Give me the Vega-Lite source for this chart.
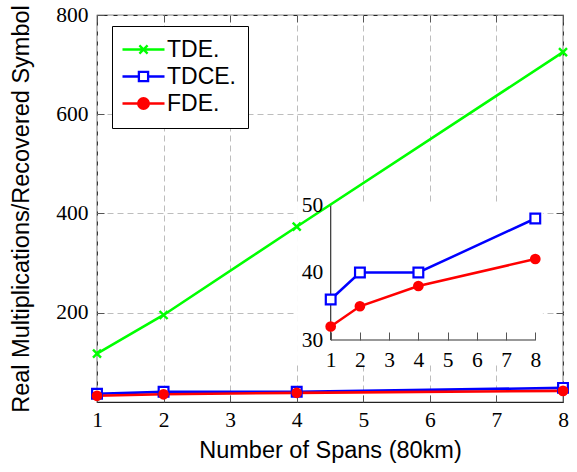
{
  "$schema": "https://vega.github.io/schema/vega-lite/v6.json",
  "width": 466,
  "height": 387,
  "autosize": {"type": "none"},
  "padding": {"left": 97, "top": 15, "right": 14, "bottom": 70},
  "background": "white",
  "config": {
    "view": {"stroke": "#222222", "strokeWidth": 1.2},
    "axis": {"labelColor": "black", "titleColor": "black", "labelFlush": false, "labelOverlap": false}
  },
  "datasets": {
    "d": [
      {"s": "TDE.", "x": 1, "y": 117},
      {"s": "TDE.", "x": 2, "y": 195},
      {"s": "TDE.", "x": 4, "y": 373},
      {"s": "TDE.", "x": 8, "y": 725},
      {"s": "TDCE.", "x": 1, "y": 36},
      {"s": "TDCE.", "x": 2, "y": 40},
      {"s": "TDCE.", "x": 4, "y": 40},
      {"s": "TDCE.", "x": 8, "y": 48},
      {"s": "FDE.", "x": 1, "y": 32},
      {"s": "FDE.", "x": 2, "y": 35},
      {"s": "FDE.", "x": 4, "y": 38},
      {"s": "FDE.", "x": 8, "y": 42}
    ],
    "inset": [
      {"xmin": 1, "xmax": 8, "ymin": 30, "ymax": 50, "bxmin": -0.15, "bxmax": 8.26, "bymin": 26.7, "bymax": 50.3}
    ]
  },
  "layer": [
    {
      "data": {"name": "d"},
      "encoding": {
        "x": {"field": "x", "type": "quantitative",
          "scale": {"domain": [-6.995, 8.948], "nice": false, "zero": false},
          "axis": {"orient": "bottom", "offset": -62, "values": [1,2,3,4,5,6,7,8], "domain": false, "grid": false,
            "tickSize": -8, "tickColor": "#555555", "tickWidth": 1, "labelFont": "Liberation Serif", "labelFontSize": 21.5,
            "labelPadding": 17, "title": null, "zindex": 1}},
        "y": {"field": "y", "type": "quantitative",
          "scale": {"domain": [20.815, 78.15], "nice": false, "zero": false},
          "axis": {"orient": "left", "offset": -233.7, "values": [30,40,50], "domain": false, "grid": false,
            "ticks": false, "labelFont": "Liberation Serif", "labelFontSize": 21.5, "labelPadding": 8, "title": null, "zindex": 1}}
      },
      "layer": [
        {"data": {"name": "inset"}, "mark": {"type": "rect", "fill": "white", "strokeWidth": 0},
          "encoding": {"x": {"field": "bxmin", "type": "quantitative"}, "x2": {"field": "bxmax"},
                       "y": {"field": "bymin", "type": "quantitative"}, "y2": {"field": "bymax"}}},
        {"data": {"name": "inset"}, "mark": {"type": "rule", "color": "#333333", "strokeWidth": 1.2},
          "encoding": {"x": {"field": "xmin", "type": "quantitative"}, "x2": {"field": "xmax"},
                       "y": {"field": "ymin", "type": "quantitative"}}},
        {"data": {"name": "inset"}, "mark": {"type": "rule", "color": "#333333", "strokeWidth": 1.2},
          "encoding": {"x": {"field": "xmin", "type": "quantitative"},
                       "y": {"field": "ymin", "type": "quantitative"}, "y2": {"field": "ymax"}}},
        {"transform": [{"filter": "datum.s === 'TDCE.'"}], "mark": {"type": "line", "color": "#0000ff", "strokeWidth": 2.5}, "encoding": {}},
        {"transform": [{"filter": "datum.s === 'FDE.'"}], "mark": {"type": "line", "color": "#ff0000", "strokeWidth": 2.5}, "encoding": {}},
        {"transform": [{"filter": "datum.s === 'TDCE.'"}], "mark": {"type": "point", "shape": "square", "size": 95, "filled": false, "fill": "white", "stroke": "#0000ff", "strokeWidth": 2.2, "opacity": 1}},
        {"transform": [{"filter": "datum.s === 'FDE.'"}], "mark": {"type": "point", "shape": "circle", "size": 115, "filled": true, "color": "#ff0000", "opacity": 1}}
      ]
    },
    {
      "data": {"name": "d"},
      "encoding": {
        "x": {"field": "x", "type": "quantitative",
          "scale": {"domain": [1, 8], "nice": false, "zero": false},
          "axis": {"orient": "bottom", "values": [1,2,3,4,5,6,7,8], "domain": false, "grid": true, "gridDash": [6,4], "gridColor": "#bdbdbd", "gridWidth": 1,
            "tickSize": -7, "tickColor": "#555555", "labelFont": "Liberation Serif", "labelFontSize": 21.5, "labelPadding": 14,
            "title": "Number of Spans (80km)", "titleFont": "Liberation Sans", "titleFontSize": 23.5, "titleFontWeight": "normal", "titlePadding": 8}},
        "y": {"field": "y", "type": "quantitative",
          "scale": {"domain": [19.5, 800], "nice": false, "zero": false},
          "axis": {"orient": "left", "values": [200,400,600,800], "domain": false, "grid": true, "gridDash": [6,4], "gridColor": "#bdbdbd", "gridWidth": 1,
            "tickSize": -7, "tickColor": "#555555", "labelFont": "Liberation Serif", "labelFontSize": 21.5, "labelPadding": 16,
            "title": "Real Multiplications/Recovered Symbol", "titleFont": "Liberation Sans", "titleFontSize": 23.5, "titleFontWeight": "normal", "titlePadding": 22}}
      },
      "layer": [
        {"transform": [{"filter": "datum.s === 'TDE.'"}], "mark": {"type": "line", "color": "#00ff00", "strokeWidth": 2.6}, "encoding": {}},
        {"transform": [{"filter": "datum.s === 'TDCE.'"}], "mark": {"type": "line", "color": "#0000ff", "strokeWidth": 2.6}, "encoding": {}},
        {"transform": [{"filter": "datum.s === 'FDE.'"}], "mark": {"type": "line", "color": "#ff0000", "strokeWidth": 2.6}, "encoding": {}},
        {"transform": [{"filter": "datum.s === 'TDE.'"}], "mark": {"type": "point", "shape": "M-1,-1L1,1M-1,1L1,-1", "size": 64, "filled": false, "stroke": "#00ff00", "strokeWidth": 2.4, "opacity": 1}},
        {"transform": [{"filter": "datum.s === 'TDCE.'"}], "mark": {"type": "point", "shape": "square", "size": 95, "filled": false, "fill": "white", "stroke": "#0000ff", "strokeWidth": 2.2, "opacity": 1}},
        {"transform": [{"filter": "datum.s === 'FDE.'"}], "mark": {"type": "point", "shape": "circle", "size": 115, "filled": true, "color": "#ff0000", "opacity": 1}}
      ]
    },
    {
      "data": {"name": "d"},
      "mark": {"type": "point", "opacity": 0},
      "encoding": {
        "x": {"field": "x", "type": "quantitative",
          "scale": {"domain": [1, 8], "nice": false, "zero": false},
          "axis": {"orient": "top", "values": [1,2,3,4,5,6,7,8], "domain": false, "grid": false, "labels": false,
            "tickSize": -7, "tickColor": "#555555", "title": null}},
        "y": {"field": "y", "type": "quantitative",
          "scale": {"domain": [19.5, 800], "nice": false, "zero": false},
          "axis": {"orient": "right", "values": [200,400,600,800], "domain": false, "grid": false, "labels": false,
            "tickSize": -7, "tickColor": "#555555", "title": null}},
        "shape": {"field": "s", "type": "nominal",
          "scale": {"domain": ["TDE.", "TDCE.", "FDE."],
            "range": ["M-2.05,0H2.05M-0.4,-0.4L0.4,0.4M-0.4,0.4L0.4,-0.4",
                      "M-2.05,0H-0.45M0.45,0H2.05M-0.45,-0.45H0.45V0.45H-0.45Z",
                      "M-2.05,0H-0.52M0.52,0H2.05M-0.52,0A0.52,0.52,0,1,0,0.52,0A0.52,0.52,0,1,0,-0.52,0Z"]},
          "legend": {"orient": "none", "legendX": 15, "legendY": 11, "title": null, "symbolOpacity": 1, "symbolSize": 420,
            "symbolStrokeWidth": 2.3, "symbolOffset": 8, "labelFont": "Liberation Sans", "labelFontSize": 23, "labelColor": "black",
            "labelOffset": 12, "rowPadding": 3, "padding": 12, "strokeColor": "black", "fillColor": "white", "cornerRadius": 0}},
        "fill": {"field": "s", "type": "nominal",
          "scale": {"domain": ["TDE.", "TDCE.", "FDE."], "range": ["white", "white", "#ff0000"]},
          "legend": {"orient": "none", "legendX": 15, "legendY": 11, "title": null, "symbolOpacity": 1, "symbolSize": 420,
            "symbolStrokeWidth": 2.3, "symbolOffset": 8, "labelFont": "Liberation Sans", "labelFontSize": 23, "labelColor": "black",
            "labelOffset": 12, "rowPadding": 3, "padding": 12, "strokeColor": "black", "fillColor": "white", "cornerRadius": 0}},
        "stroke": {"field": "s", "type": "nominal",
          "scale": {"domain": ["TDE.", "TDCE.", "FDE."], "range": ["#00ff00", "#0000ff", "#ff0000"]},
          "legend": {"orient": "none", "legendX": 15, "legendY": 11, "title": null, "symbolOpacity": 1, "symbolSize": 420,
            "symbolStrokeWidth": 2.3, "symbolOffset": 8, "labelFont": "Liberation Sans", "labelFontSize": 23, "labelColor": "black",
            "labelOffset": 12, "rowPadding": 3, "padding": 12, "strokeColor": "black", "fillColor": "white", "cornerRadius": 0}}
      }
    }
  ],
  "resolve": {"scale": {"x": "independent", "y": "independent"}}
}
